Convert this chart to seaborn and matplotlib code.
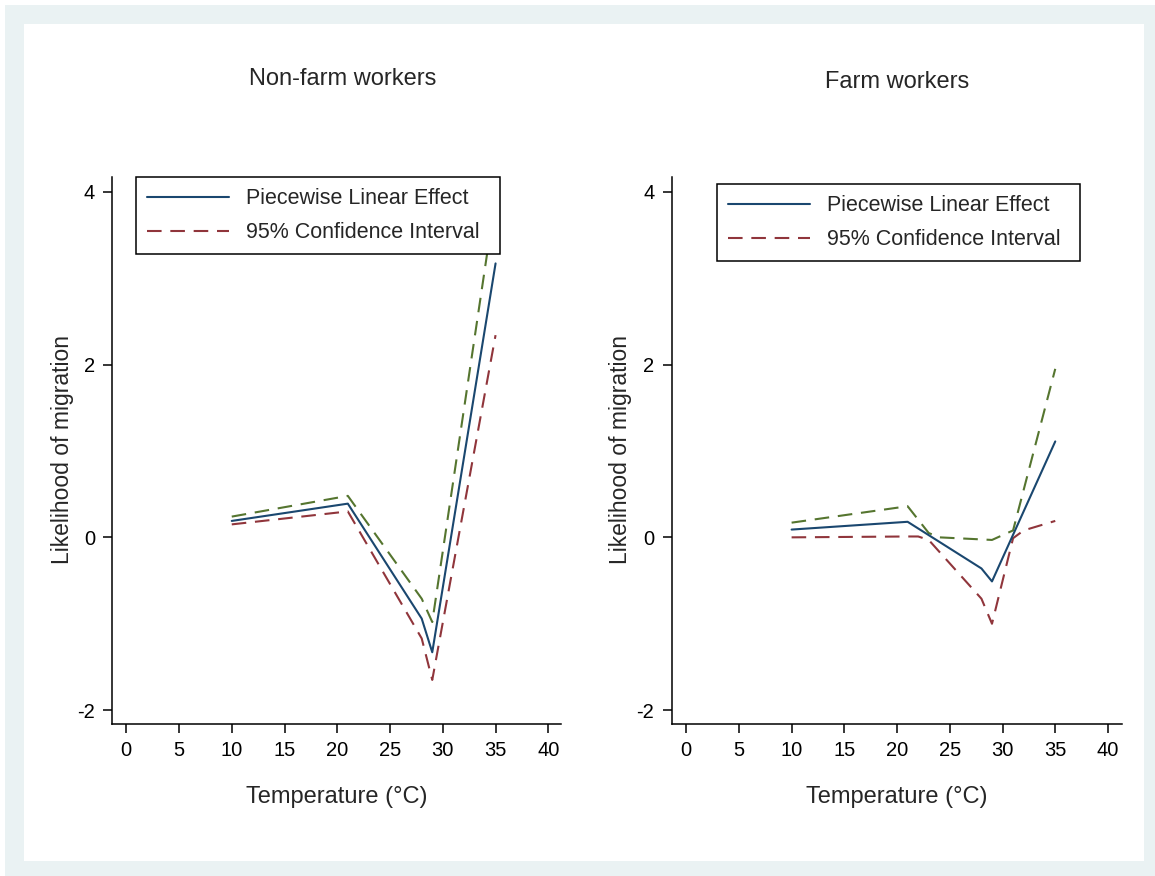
import matplotlib
matplotlib.use('Agg')
import matplotlib.pyplot as plt
import seaborn as sns
from matplotlib.patches import Rectangle
from matplotlib.lines import Line2D

# ---- data ----
panel_titles = ["Non-farm workers", "Farm workers"]
legend_labels = ["Piecewise Linear Effect", "95% Confidence Interval"]
x_ticks = [0, 5, 10, 15, 20, 25, 30, 35, 40]
y_ticks = [-2, 0, 2, 4]

# Non-farm workers
nf_temp = [10, 21, 28, 29, 35]
nf_effect = [0.19, 0.39, -0.94, -1.33, 3.17]
nf_upper_temp = [10, 21, 28, 29, 35]
nf_upper = [0.24, 0.48, -0.71, -0.98, 3.94]
nf_lower_temp = [10, 21, 28, 29, 35]
nf_lower = [0.15, 0.30, -1.17, -1.65, 2.34]

# Farm workers
f_temp = [10, 21, 28, 29, 35]
f_effect = [0.09, 0.18, -0.36, -0.51, 1.11]
f_upper_temp = [10, 21, 23, 24, 29, 31, 35]
f_upper = [0.17, 0.36, 0.05, 0.0, -0.03, 0.08, 1.95]
f_lower_temp = [10, 21, 22, 23, 28, 29, 31, 32, 35]
f_lower = [0.0, 0.01, 0.01, -0.03, -0.71, -1.0, -0.01, 0.08, 0.19]

BLUE = "#1A476F"
RED = "#90353B"
GREEN = "#55752F"
BG = "#EAF2F3"

sns.set_style("ticks")
plt.rcParams['font.family'] = ['Liberation Sans', 'DejaVu Sans']
plt.rcParams['axes.unicode_minus'] = False

W, H = 1155, 876
fig = plt.figure(figsize=(W / 100, H / 100), dpi=100, facecolor="white")

def px_rect(x0, y0, x1, y1):
    return (x0 / W, 1 - y1 / H, (x1 - x0) / W, (y1 - y0) / H)

r = px_rect(5, 5, 1155, 876)
fig.patches.append(Rectangle(r[:2], *r[2:], transform=fig.transFigure,
                             facecolor=BG, edgecolor="none", zorder=-10))
r = px_rect(24, 24, 1144, 861)
fig.patches.append(Rectangle(r[:2], *r[2:], transform=fig.transFigure,
                             facecolor="white", edgecolor="none", zorder=-9))

DASH = (0, (7, 4.2))
LW = 1.5

panels = [
    dict(rect=px_rect(112.4, 177, 561, 724), xlim=(-1.31, 41.2),
         eff=(nf_temp, nf_effect), up=(nf_upper_temp, nf_upper), lo=(nf_lower_temp, nf_lower),
         leg=(0.0526, 0.9995 - 0.01, 0.8114, 0.01), title_xy=(343, 79), ylab_x=62, xlab_x=337),
    dict(rect=px_rect(671.7, 177, 1121.7, 724), xlim=(-1.37, 41.3),
         eff=(f_temp, f_effect), up=(f_upper_temp, f_upper), lo=(f_lower_temp, f_lower),
         leg=(0.1007, 0.9867 - 0.01, 0.8067, 0.01), title_xy=(897, 82), ylab_x=621, xlab_x=897),
]

for i, p in enumerate(panels):
    ax = fig.add_axes(p["rect"])
    ax.set_facecolor("none")
    sns.lineplot(x=p["up"][0], y=p["up"][1], ax=ax, color=GREEN, lw=LW,
                 linestyle=DASH, sort=False, estimator=None)
    sns.lineplot(x=p["lo"][0], y=p["lo"][1], ax=ax, color=RED, lw=LW,
                 linestyle=DASH, sort=False, estimator=None)
    sns.lineplot(x=p["eff"][0], y=p["eff"][1], ax=ax, color=BLUE, lw=LW,
                 sort=False, estimator=None)
    ax.set_xlim(*p["xlim"])
    ax.set_ylim(-2.16, 4.17)
    ax.set_xticks(x_ticks)
    ax.set_yticks(y_ticks)
    ax.set_xticklabels([str(t) for t in x_ticks])
    ax.set_yticklabels([str(t) for t in y_ticks])
    ax.tick_params(direction="out", length=6.5, width=1.1, color="black",
                   labelsize=14.5, pad=6, labelcolor="black")
    for s in ["top", "right"]:
        ax.spines[s].set_visible(False)
    for s in ["left", "bottom"]:
        ax.spines[s].set_linewidth(1.1)
        ax.spines[s].set_color("black")
    ax.set_xlabel("")
    ax.set_ylabel("")

    handles = [Line2D([], [], color=BLUE, lw=LW),
               Line2D([], [], color=RED, lw=LW, linestyle=DASH)]
    leg = ax.legend(handles, legend_labels, loc="upper left", bbox_to_anchor=p["leg"],
                    mode="expand", borderaxespad=0, frameon=True, fancybox=False,
                    framealpha=1, edgecolor="black", fontsize=15.5, handlelength=3.8,
                    handletextpad=0.8, labelspacing=0.62, borderpad=0.5)
    leg.get_frame().set_linewidth(1.1)
    leg.set_zorder(10)

    fig.text(p["title_xy"][0] / W, 1 - p["title_xy"][1] / H, panel_titles[i],
             ha="center", va="center", fontsize=17)
    fig.text(p["ylab_x"] / W, 1 - 450 / H, "Likelihood of migration",
             ha="center", va="center", rotation=90, fontsize=16.5)
    fig.text(p["xlab_x"] / W, 1 - 797 / H, "Temperature (°C)",
             ha="center", va="center", fontsize=17)

fig.savefig("out.png", dpi=100, facecolor=fig.get_facecolor())
